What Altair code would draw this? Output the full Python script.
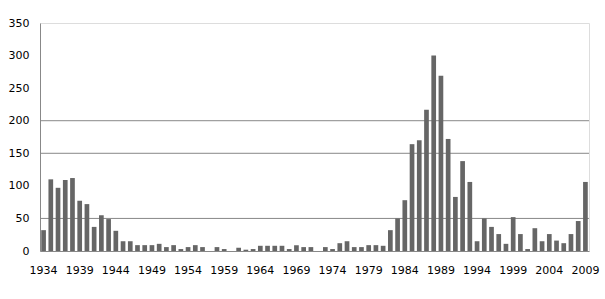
import altair as alt
import pandas as pd

years = list(range(1934, 2010))
counts = [
    32, 110, 97, 109, 112, 77, 72, 37, 55, 49,      # 1934-1943
    31, 15, 15, 9, 9, 9, 11, 6, 9, 3,               # 1944-1953
    6, 9, 6, 0, 6, 3, 0, 5, 2, 3,                   # 1954-1963
    8, 8, 8, 8, 3, 9, 6, 6, 0, 6,                   # 1964-1973
    3, 12, 15, 6, 6, 9, 9, 8, 32, 50,               # 1974-1983
    78, 164, 170, 217, 300, 269, 172, 83, 138, 106, # 1984-1993
    15, 50, 37, 26, 11, 52, 26, 3, 35, 15,          # 1994-2003
    26, 16, 12, 26, 46, 106,                        # 2004-2009
]
label_years = list(range(1934, 2010, 5))
grid_values = [50, 150, 200]
y_ticks = [0, 50, 100, 150, 200, 250, 300, 350]

df = pd.DataFrame({"year": years, "count": counts})
grid_df = pd.DataFrame({"v": grid_values})

FONT = "DejaVu Sans"

x_enc = alt.X(
    "year:O",
    scale=alt.Scale(paddingInner=0.35, paddingOuter=0.17),
    axis=alt.Axis(
        values=label_years,
        title=None,
        labelAngle=0,
        ticks=False,
        domainColor="#888888",
        labelFont=FONT,
        labelFontSize=11,
        labelColor="#000000",
        labelPadding=13,
        labelOverlap=False,
        grid=False,
    ),
)

y_axis = alt.Axis(
    values=y_ticks,
    title=None,
    ticks=False,
    grid=False,
    domainColor="#888888",
    labelFont=FONT,
    labelFontSize=11,
    labelColor="#000000",
    labelPadding=11,
    labelOverlap=False,
    labelFlush=False,
)

bars = alt.Chart(df).mark_bar(color="#666666").encode(
    x=x_enc,
    y=alt.Y(
        "count:Q",
        scale=alt.Scale(domain=[0, 350], nice=False),
        axis=y_axis,
    ),
)

grid = alt.Chart(grid_df).mark_rule(color="#888888", strokeWidth=1).encode(
    y=alt.Y("v:Q", scale=alt.Scale(domain=[0, 350], nice=False), axis=y_axis),
)

chart = alt.layer(grid, bars).properties(
    width=549,
    height=228,
    padding={"left": 40, "top": 23, "right": 16, "bottom": 48},
    autosize=alt.AutoSizeParams(type="none"),
).configure_view(stroke=None).configure(background="#ffffff")

chart.save("out.html", embed_options={"renderer": "svg", "actions": False})
